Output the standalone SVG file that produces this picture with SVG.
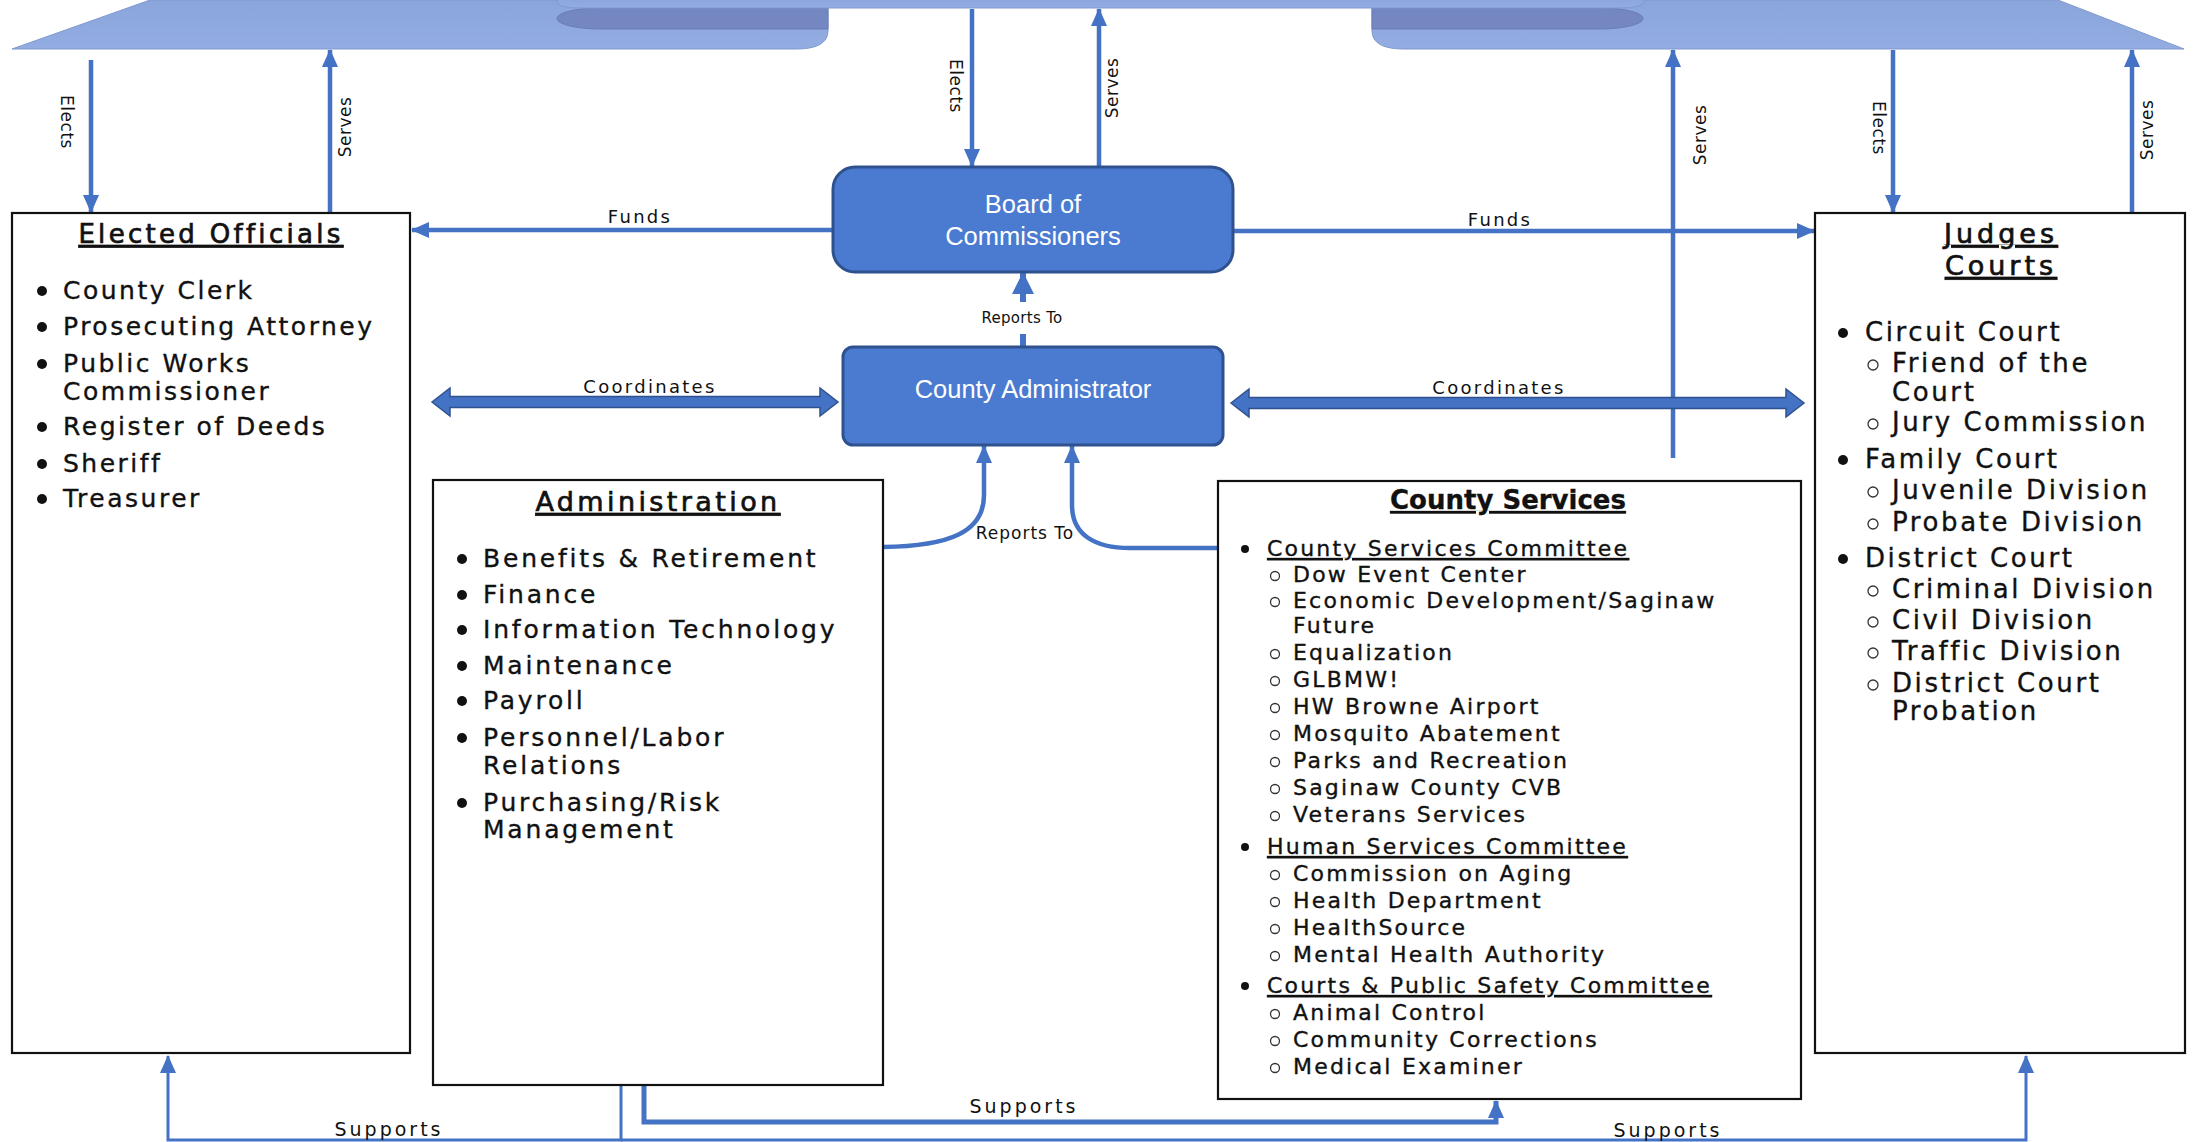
<svg xmlns="http://www.w3.org/2000/svg" width="2193" height="1142" viewBox="0 0 2193 1142">
<defs>
<style>
.txt{font-family:"DejaVu Sans",sans-serif;fill:#111;stroke:#111;stroke-width:0.35}
.lbl{font-family:"DejaVu Sans",sans-serif;font-size:18px;letter-spacing:2.3px;fill:#111;text-anchor:middle}
.vl{font-family:"DejaVu Sans",sans-serif;font-size:17px;letter-spacing:0.5px;fill:#111;text-anchor:middle;dominant-baseline:central}
.box{fill:#fff;stroke:#111;stroke-width:2.2}
.blue{fill:#4a7bd0;stroke:#2f528f;stroke-width:3}
.wt{font-family:"Liberation Sans",Arial,sans-serif;font-size:25.5px;fill:#fff;text-anchor:middle}
.ln{fill:none;stroke:#4472c4;stroke-width:4.5}
.thin{fill:none;stroke:#4472c4;stroke-width:3}
.thick{fill:none;stroke:#4472c4;stroke-width:6}
.dbl{fill:#4472c4;stroke:#2f528f;stroke-width:1.5}
.b{fill:#111}
.c{fill:none;stroke:#333;stroke-width:1.3}
.ttl{text-anchor:middle;text-decoration:underline;stroke-width:0.7}
.band{fill:url(#bg);stroke:#7f98cf;stroke-width:1}
.curl{fill:#7587c0;stroke:#6a7db8;stroke-width:1}
</style>
<linearGradient id="bg" x1="0" y1="0" x2="0" y2="1">
<stop offset="0" stop-color="#8aa5da"/>
<stop offset="1" stop-color="#93ade2"/>
</linearGradient>
<marker id="ah" viewBox="0 0 18 16" refX="17" refY="8" markerWidth="18" markerHeight="16" markerUnits="userSpaceOnUse" orient="auto">
<path d="M0,0 L18,8 L0,16 Z" fill="#4472c4"/>
</marker>
<marker id="ah2" viewBox="0 0 22 22" refX="21" refY="11" markerWidth="22" markerHeight="22" markerUnits="userSpaceOnUse" orient="auto">
<path d="M0,0 L22,11 L0,22 Z" fill="#4472c4"/>
</marker>
</defs>
<rect width="2193" height="1142" fill="#fff"/>

<g id="banner">
<path class="band" d="M12,49 L150,0 L828,0 L828,30 C828,44 816,49 795,49 Z"/>
<path class="band" d="M2184,49 L2058,0 L1372,0 L1372,30 C1372,44 1384,49 1405,49 Z"/>
<path class="curl" d="M828,8 L828,29 L600,29 A43 10.5 0 0 1 600,8 Z"/>
<path class="curl" d="M1372,8 L1372,29 L1600,29 A43 10.5 0 0 0 1600,8 Z"/>
<path class="band" d="M557,-2 L1644,-2 L1644,0 C1644,5 1638,8 1620,8 L580,8 C562,8 557,5 557,0 Z"/>
</g>

<g id="connectors">
<path class="ln" d="M91,60 L91,212" marker-end="url(#ah)"/>
<path class="ln" d="M330,213 L330,50" marker-end="url(#ah)"/>
<path class="ln" d="M972,9 L972,166" marker-end="url(#ah)"/>
<path class="ln" d="M1099,166 L1099,9" marker-end="url(#ah)"/>
<path class="ln" d="M1673,458 L1673,50" marker-end="url(#ah)"/>
<path class="ln" d="M1893,50 L1893,212" marker-end="url(#ah)"/>
<path class="ln" d="M2132,213 L2132,50" marker-end="url(#ah)"/>
<path class="ln" d="M832,230 L412,230" marker-end="url(#ah)"/>
<path class="ln" d="M1233,231 L1814,231" marker-end="url(#ah)"/>
<path class="dbl" d="M432,402 L450,388 L450,396.5 L820,396.5 L820,388 L838,402 L820,416 L820,407.5 L450,407.5 L450,416 Z"/>
<path class="dbl" d="M1231,403 L1249,389 L1249,397.5 L1786,397.5 L1786,389 L1804,403 L1786,417 L1786,408.5 L1249,408.5 L1249,417 Z"/>
<path class="thick" d="M1023,347 L1023,334"/>
<path class="thick" d="M1023,302 L1023,273" marker-end="url(#ah2)"/>
<path class="ln" d="M883,547 C950,546 984,532 984,495 L984,446" marker-end="url(#ah)"/>
<path class="ln" d="M1218,548 L1130,548 C1095,548 1072,535 1072,505 L1072,446" marker-end="url(#ah)"/>
<path class="thin" d="M621,1086 L621,1140 L168,1140 L168,1056" marker-end="url(#ah)"/>
<path class="thin" d="M621,1140 L2026,1140 L2026,1056" marker-end="url(#ah)"/>
<path class="ln" style="stroke-width:5" d="M644,1086 L644,1122 L1496,1122 L1496,1101" marker-end="url(#ah)"/>
<text class="vl" transform="translate(67,122) rotate(90)">Elects</text>
<text class="vl" transform="translate(345,127) rotate(-90)">Serves</text>
<text class="vl" transform="translate(956,86) rotate(90)">Elects</text>
<text class="vl" transform="translate(1112,88) rotate(-90)">Serves</text>
<text class="vl" transform="translate(1700,135) rotate(-90)">Serves</text>
<text class="vl" transform="translate(1879,128) rotate(90)">Elects</text>
<text class="vl" transform="translate(2147,130) rotate(-90)">Serves</text>
<text class="lbl" x="640" y="223">Funds</text>
<text class="lbl" x="1500" y="226">Funds</text>
<text class="lbl" x="650" y="393">Coordinates</text>
<text class="lbl" x="1499" y="394">Coordinates</text>
<text class="lbl" x="1022" y="323" style="font-size:15px;letter-spacing:0.3px">Reports To</text>
<text class="lbl" x="1025" y="539" style="font-size:17px;letter-spacing:1px">Reports To</text>
<text class="lbl" x="389" y="1136" style="font-size:19px;letter-spacing:3px">Supports</text>
<text class="lbl" x="1024" y="1113" style="font-size:19px;letter-spacing:3px">Supports</text>
<text class="lbl" x="1668" y="1137" style="font-size:19px;letter-spacing:3px">Supports</text>
</g>

<g id="board">
<rect class="blue" x="833" y="167" width="400" height="105" rx="22"/>
<text class="wt" x="1033" y="213">Board of</text>
<text class="wt" x="1033" y="245">Commissioners</text>
</g>

<g id="administrator">
<rect class="blue" x="843" y="347" width="380" height="98" rx="10"/>
<text class="wt" x="1033" y="398">County Administrator</text>
</g>

<g id="elected-officials">
<rect class="box" x="12" y="213" width="398" height="840"/>
<text class="txt ttl" x="211" y="243" style="font-size:26px;letter-spacing:3.3px">Elected Officials</text>
<g style="font-size:25px;letter-spacing:2.5px">
<circle class="b" cx="42" cy="291" r="5"/><text class="txt" x="63" y="299">County Clerk</text>
<circle class="b" cx="42" cy="327" r="5"/><text class="txt" x="63" y="335">Prosecuting Attorney</text>
<circle class="b" cx="42" cy="364" r="5"/><text class="txt" x="63" y="372">Public Works</text>
<text class="txt" x="63" y="400">Commissioner</text>
<circle class="b" cx="42" cy="427" r="5"/><text class="txt" x="63" y="435">Register of Deeds</text>
<circle class="b" cx="42" cy="464" r="5"/><text class="txt" x="63" y="472">Sheriff</text>
<circle class="b" cx="42" cy="499" r="5"/><text class="txt" x="63" y="507">Treasurer</text>
</g>
</g>

<g id="administration">
<rect class="box" x="433" y="480" width="450" height="605"/>
<text class="txt ttl" x="658" y="511" style="font-size:27px;letter-spacing:3.4px">Administration</text>
<g style="font-size:25px;letter-spacing:2.8px">
<circle class="b" cx="462" cy="559" r="5"/><text class="txt" x="483" y="567">Benefits &amp; Retirement</text>
<circle class="b" cx="462" cy="595" r="5"/><text class="txt" x="483" y="603">Finance</text>
<circle class="b" cx="462" cy="630" r="5"/><text class="txt" x="483" y="638">Information Technology</text>
<circle class="b" cx="462" cy="666" r="5"/><text class="txt" x="483" y="674">Maintenance</text>
<circle class="b" cx="462" cy="701" r="5"/><text class="txt" x="483" y="709">Payroll</text>
<circle class="b" cx="462" cy="738" r="5"/><text class="txt" x="483" y="746">Personnel/Labor</text>
<text class="txt" x="483" y="774">Relations</text>
<circle class="b" cx="462" cy="803" r="5"/><text class="txt" x="483" y="811">Purchasing/Risk</text>
<text class="txt" x="483" y="838">Management</text>
</g>
</g>

<g id="county-services">
<rect class="box" x="1218" y="481" width="583" height="618"/>
<text class="txt ttl" x="1508" y="509" style="font-size:26px;font-weight:bold;stroke-width:0.3">County Services</text>
<g style="font-size:22px;letter-spacing:2.2px">
<circle class="b" cx="1245" cy="549" r="4"/><text class="txt" x="1267" y="556" text-decoration="underline">County Services Committee</text>
<circle class="c" cx="1275" cy="576" r="4.5"/><text class="txt" x="1293" y="582">Dow Event Center</text>
<circle class="c" cx="1275" cy="602" r="4.5"/><text class="txt" x="1293" y="608">Economic Development/Saginaw</text>
<text class="txt" x="1293" y="633">Future</text>
<circle class="c" cx="1275" cy="654" r="4.5"/><text class="txt" x="1293" y="660">Equalization</text>
<circle class="c" cx="1275" cy="681" r="4.5"/><text class="txt" x="1293" y="687">GLBMW!</text>
<circle class="c" cx="1275" cy="708" r="4.5"/><text class="txt" x="1293" y="714">HW Browne Airport</text>
<circle class="c" cx="1275" cy="735" r="4.5"/><text class="txt" x="1293" y="741">Mosquito Abatement</text>
<circle class="c" cx="1275" cy="762" r="4.5"/><text class="txt" x="1293" y="768">Parks and Recreation</text>
<circle class="c" cx="1275" cy="789" r="4.5"/><text class="txt" x="1293" y="795">Saginaw County CVB</text>
<circle class="c" cx="1275" cy="816" r="4.5"/><text class="txt" x="1293" y="822">Veterans Services</text>
<circle class="b" cx="1245" cy="847" r="4"/><text class="txt" x="1267" y="854" text-decoration="underline">Human Services Committee</text>
<circle class="c" cx="1275" cy="875" r="4.5"/><text class="txt" x="1293" y="881">Commission on Aging</text>
<circle class="c" cx="1275" cy="902" r="4.5"/><text class="txt" x="1293" y="908">Health Department</text>
<circle class="c" cx="1275" cy="929" r="4.5"/><text class="txt" x="1293" y="935">HealthSource</text>
<circle class="c" cx="1275" cy="956" r="4.5"/><text class="txt" x="1293" y="962">Mental Health Authority</text>
<circle class="b" cx="1245" cy="986" r="4"/><text class="txt" x="1267" y="993" text-decoration="underline">Courts &amp; Public Safety Committee</text>
<circle class="c" cx="1275" cy="1014" r="4.5"/><text class="txt" x="1293" y="1020">Animal Control</text>
<circle class="c" cx="1275" cy="1041" r="4.5"/><text class="txt" x="1293" y="1047">Community Corrections</text>
<circle class="c" cx="1275" cy="1068" r="4.5"/><text class="txt" x="1293" y="1074">Medical Examiner</text>
</g>
</g>

<g id="judges-courts">
<rect class="box" x="1815" y="213" width="370" height="840"/>
<text class="txt ttl" x="2001" y="243" style="font-size:27px;letter-spacing:4px">Judges</text>
<text class="txt ttl" x="2001" y="275" style="font-size:27px;letter-spacing:4px">Courts</text>
<g style="font-size:26px;letter-spacing:2.6px">
<circle class="b" cx="1843" cy="333" r="5"/><text class="txt" x="1865" y="341">Circuit Court</text>
<circle class="c" cx="1873" cy="365" r="5"/><text class="txt" x="1892" y="372">Friend of the</text>
<text class="txt" x="1892" y="401">Court</text>
<circle class="c" cx="1873" cy="424" r="5"/><text class="txt" x="1892" y="431">Jury Commission</text>
<circle class="b" cx="1843" cy="460" r="5"/><text class="txt" x="1865" y="468">Family Court</text>
<circle class="c" cx="1873" cy="492" r="5"/><text class="txt" x="1892" y="499">Juvenile Division</text>
<circle class="c" cx="1873" cy="524" r="5"/><text class="txt" x="1892" y="531">Probate Division</text>
<circle class="b" cx="1843" cy="559" r="5"/><text class="txt" x="1865" y="567">District Court</text>
<circle class="c" cx="1873" cy="591" r="5"/><text class="txt" x="1892" y="598">Criminal Division</text>
<circle class="c" cx="1873" cy="622" r="5"/><text class="txt" x="1892" y="629">Civil Division</text>
<circle class="c" cx="1873" cy="653" r="5"/><text class="txt" x="1892" y="660">Traffic Division</text>
<circle class="c" cx="1873" cy="685" r="5"/><text class="txt" x="1892" y="692">District Court</text>
<text class="txt" x="1892" y="720">Probation</text>
</g>
</g>
</svg>
